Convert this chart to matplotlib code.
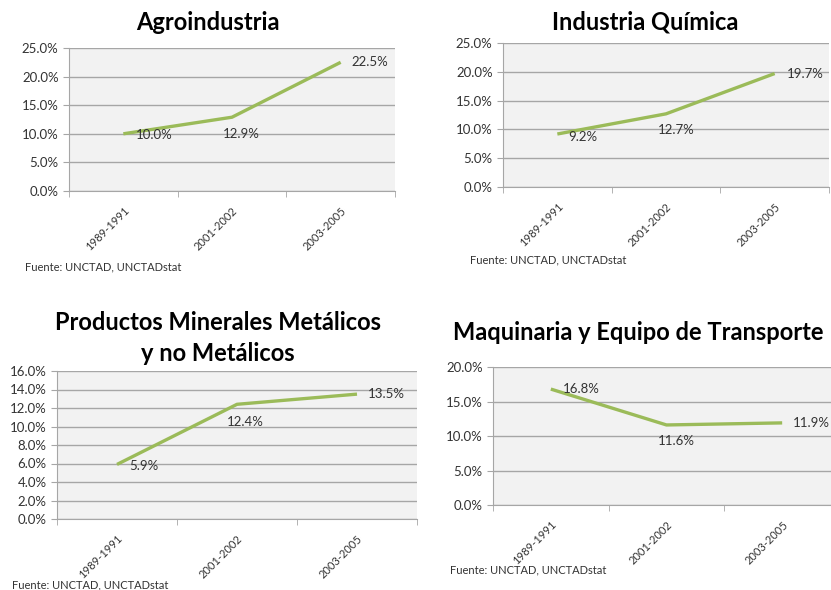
import matplotlib.pyplot as plt
from matplotlib.ticker import FuncFormatter, MultipleLocator

plt.rcParams['font.family'] = ['Lato', 'DejaVu Sans']

periodos = ["1989-1991", "2001-2002", "2003-2005"]

agro = [10.0, 12.9, 22.5]
quimica = [9.2, 12.7, 19.7]
minerales = [5.9, 12.4, 13.5]
maquinaria = [16.8, 11.6, 11.9]

W, H = 831, 590
fig = plt.figure(figsize=(W / 100, H / 100), dpi=100)
fig.patch.set_facecolor("white")

VERDE = "#9bbb59"
GRIS = "#a6a6a6"


def panel(box, valores, ymax, paso, offsets, titulo, tpos, fuente):
    x0, y0, x1, y1 = box
    ax = fig.add_axes([x0 / W, 1 - y1 / H, (x1 - x0) / W, (y1 - y0) / H])
    ax.set_facecolor("#f2f2f2")
    xs = [i + 0.5 for i in range(len(valores))]
    ax.plot(xs, valores, color=VERDE, lw=2.4, solid_capstyle="butt")
    for x, v, off in zip(xs, valores, offsets):
        ax.annotate(f"{v:.1f}%", (x, v), xytext=off, textcoords="offset points",
                    fontsize=9.5, color="#333333", va="center", ha="left")
    ax.set_xlim(0, 3)
    ax.set_ylim(0, ymax)
    ax.yaxis.set_major_locator(MultipleLocator(paso))
    ax.yaxis.set_major_formatter(FuncFormatter(lambda v, p: f"{v:.1f}%"))
    ax.grid(axis="y", color=GRIS, lw=1)
    ax.set_axisbelow(True)
    ax.set_xticks(xs)
    ax.set_xticklabels(periodos, rotation=45, ha="right", rotation_mode="anchor",
                       fontsize=8, color="#333333")
    ax.set_xticks([0, 1, 2, 3], minor=True)
    ax.tick_params(axis="x", which="major", length=0, pad=10)
    ax.tick_params(axis="x", which="minor", length=4, color=GRIS)
    ax.tick_params(axis="y", length=4, color=GRIS, labelsize=9.5, labelcolor="#333333")
    for s in ["top", "right"]:
        ax.spines[s].set_visible(False)
    for s in ["left", "bottom"]:
        ax.spines[s].set_color(GRIS)
    fig.text(tpos[0] / W, 1 - tpos[1] / H, titulo, fontsize=17, fontweight="bold",
             ha=tpos[2], va="center", color="black", linespacing=1.38,
             multialignment="center")
    fig.text(fuente[0] / W, 1 - fuente[1] / H, "Fuente: UNCTAD, UNCTADstat",
             fontsize=8, color="#333333", va="center")
    return ax


panel((69, 48, 395, 191), agro, 25, 5, [(9, -1), (-6.5, -12), (8, 0)],
      "Agroindustria", (208, 22, "center"), (25, 267))
panel((503, 43, 829, 187), quimica, 25, 5, [(8, -2), (-6, -11.5), (8.5, 0)],
      "Industria Química", (645, 22, "center"), (470, 260))
panel((57, 371, 417, 519), minerales, 16, 2, [(9, -1), (-7, -13), (8, 0)],
      "Productos Minerales Metálicos\ny no Metálicos", (218, 338, "center"), (12, 585))
panel((493, 367, 840, 505), maquinaria, 20, 5, [(8.5, 0), (-6, -11.5), (8, 0)],
      "Maquinaria y Equipo de Transporte", (453, 333, "left"), (450, 570))

fig.savefig("out.png", dpi=100)
